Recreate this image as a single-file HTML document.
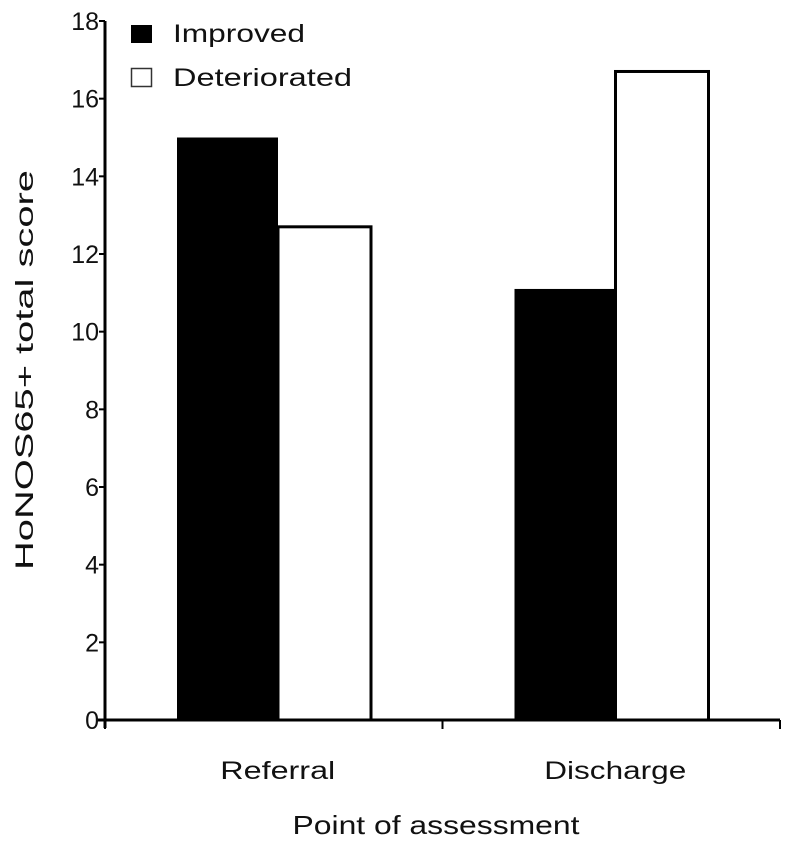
<!DOCTYPE html>
<html><head><meta charset="utf-8"><style>
body{margin:0;background:#fff}
svg text{font-family:"Liberation Sans",sans-serif;fill:#111}
</style></head><body>
<svg width="793" height="842" id="c">
</svg>
<script>
const categories=["Referral","Discharge"];
const improved=[15.0,11.1];
const deteriorated=[12.7,16.7];
const yTicks=[0,2,4,6,8,10,12,14,16,18];
const NS="http://www.w3.org/2000/svg";
const svg=document.getElementById('c');
const x0=105,x1=780,y0=720,yTop=21,yMax=18;
const labelLen={"Referral":115,"Discharge":142};
function y(v){return y0-(y0-yTop)*v/yMax;}
function mk(t,a,txt){const e=document.createElementNS(NS,t);for(const k in a)e.setAttribute(k,a[k]);if(txt!==undefined)e.textContent=txt;svg.appendChild(e);return e;}
const groupW=(x1-x0)/categories.length;
categories.forEach((c,i)=>{
  const gx=x0+groupW*i;
  const b1=mk('rect',{x:gx+72,y:y(improved[i]),width:101,height:y0-y(improved[i]),fill:'#000'});
  
  
  const b2=mk('rect',{x:gx+173,y:y(deteriorated[i]),width:93,height:y0-y(deteriorated[i]),fill:'#fff',stroke:'#000','stroke-width':3});
  
  
  const t=mk('text',{x:gx+groupW/2+4,y:779,'font-size':25,'text-anchor':'middle',textLength:labelLen[c],lengthAdjust:'spacingAndGlyphs'},c);
  
  
});
const ya=mk('line',{x1:x0,y1:yTop,x2:x0,y2:y0+8,stroke:'#000','stroke-width':3});


const xa=mk('line',{x1:x0-8,y1:y0,x2:x1,y2:y0,stroke:'#000','stroke-width':3});


for(let i=0;i<=categories.length;i++){
  const tx=x0+groupW*i;
  const tk=mk('line',{x1:tx,y1:y0,x2:tx,y2:y0+9,stroke:'#000','stroke-width':2});
  
  
}
yTicks.forEach(v=>{
  const tk=mk('line',{x1:x0-6,y1:y(v),x2:x0,y2:y(v),stroke:'#000','stroke-width':2});
  
  
  const t=mk('text',{x:x0-6,y:y(v)+9,'font-size':25,'text-anchor':'end'},String(v));
  
  
});
const yt=mk('text',{x:0,y:0,'font-size':25,'text-anchor':'middle',textLength:400,lengthAdjust:'spacingAndGlyphs',transform:'translate(33,370) rotate(-90)'},'HoNOS65+ total score');


const xt=mk('text',{x:436,y:834,'font-size':26,'text-anchor':'middle',textLength:287,lengthAdjust:'spacingAndGlyphs'},'Point of assessment');


const l1=mk('rect',{x:131,y:25,width:21,height:18,fill:'#000'});


const l1t=mk('text',{x:173,y:42,'font-size':25,textLength:132,lengthAdjust:'spacingAndGlyphs'},'Improved');


const l2=mk('rect',{x:131.5,y:68.5,width:20,height:18,fill:'#fff',stroke:'#333','stroke-width':1.5});


const l2t=mk('text',{x:173,y:86,'font-size':25,textLength:179,lengthAdjust:'spacingAndGlyphs'},'Deteriorated');


</script>
</body></html>
